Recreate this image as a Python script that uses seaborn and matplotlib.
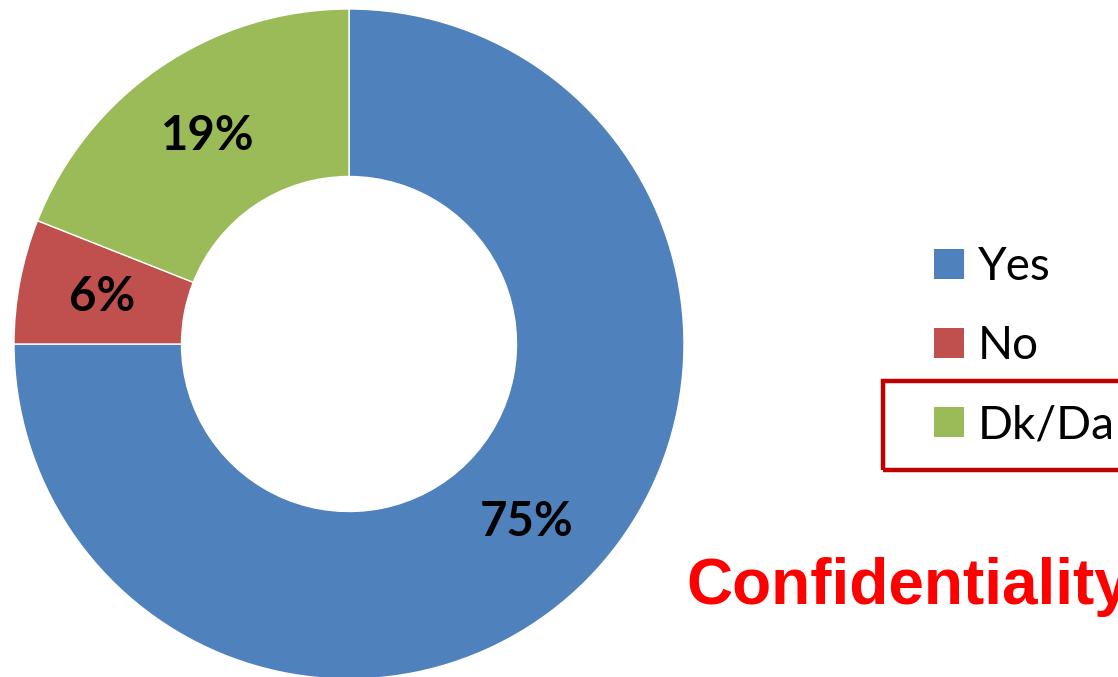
import matplotlib
matplotlib.use("Agg")
import matplotlib.pyplot as plt
from matplotlib.patches import Rectangle, Patch
import seaborn as sns

# Survey answers (percent of respondents)
categories = ["Yes", "No", "Dk/Da"]
shares = [75, 6, 19]
colors = ["#4F81BD", "#C0504D", "#9BBB59"]
title_text = "Confidentiality"

sns.set_theme(style="white")
plt.rcParams["font.family"] = ["Lato", "DejaVu Sans"]

W, H = 1118, 677
fig = plt.figure(figsize=(W / 100, H / 100), dpi=100)
fig.patch.set_facecolor("white")

# Donut: centre (349, 344) px, outer radius 335 px
cx, cy, r = 349, 344, 335
ax = fig.add_axes([(cx - r) / W, (H - cy - r) / H, 2 * r / W, 2 * r / H])
wedges, _, autotexts = ax.pie(
    shares,
    colors=colors,
    startangle=90,
    counterclock=False,
    radius=1.0,
    autopct=lambda p: f"{p:.0f}%",
    pctdistance=0.75,
    wedgeprops=dict(width=0.5, edgecolor="white", linewidth=1.0),
    textprops=dict(fontsize=34, fontweight="bold", color="black"),
)
ax.set_xlim(-1, 1)
ax.set_ylim(-1, 1)
ax.set_aspect("equal")
ax.axis("off")

# Legend on the right
handles = [Patch(facecolor=c, edgecolor="none") for c in colors]
leg = fig.legend(
    handles, categories,
    loc="upper left",
    bbox_to_anchor=(934 / W, 1 - 246 / H),
    frameon=False,
    fontsize=33,
    labelcolor="black",
    handlelength=0.65,
    handleheight=0.65,
    handletextpad=0.3,
    labelspacing=0.81,
    borderpad=0,
    borderaxespad=0,
)

# Highlight box around the last legend entry
fig.patches.append(Rectangle(
    (883 / W, 1 - 470 / H), (1140 - 883) / W, (470 - 381) / H,
    transform=fig.transFigure, fill=False, edgecolor="#C00000",
    linewidth=3.2, clip_on=False,
))

fig.text(686 / W, 1 - 604 / H, title_text, color="#FF0000",
         fontsize=46, fontweight="bold", family=["Liberation Sans", "DejaVu Sans"],
         ha="left", va="baseline")

fig.savefig("out.png", dpi=100, facecolor="white")
